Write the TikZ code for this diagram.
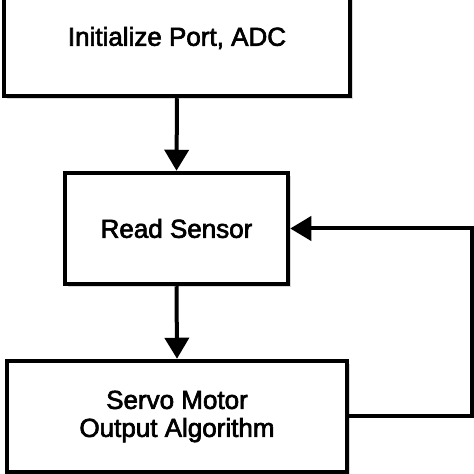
\documentclass[tikz,border=0pt]{standalone}
\usepackage{fontspec}
\setmainfont{Liberation Sans}
\newfontfamily\boxfont{Liberation Sans}[FakeBold=2.5]
\usetikzlibrary{arrows.meta,shadows}
\begin{document}
\begin{tikzpicture}[x=1pt,y=1pt,
  box/.style={draw=black, line width=4.5pt, fill=white, align=center,
    font=\boxfont\fontsize{26}{28}\selectfont, inner sep=0pt,
    drop shadow={shadow xshift=3pt, shadow yshift=-3pt, opacity=0.15, fill=black}},
  conn/.style={line width=4pt, -{Triangle[length=21pt,width=24pt]}}]
\useasboundingbox (0,0) rectangle (474,474);
\clip (0,0) rectangle (474,474);
\fill[white] (0,0) rectangle (474,474);
\node[box, minimum width=346pt, minimum height=116pt] (init) at (177,436) {Initialize Port, ADC};
\node[box, minimum width=223pt, minimum height=111pt] (read) at (176.5,245.5) {Read Sensor};
\node[box, minimum width=340pt, minimum height=111pt] (servo) at (177,57.5) {Servo Motor\\Output Algorithm};
\coordinate (c1) at (472,57.5);
\coordinate (c2) at (472,245.5);
\draw[conn] (init.south) -- (read.north);
\draw[conn] (read.south) -- (servo.north);
\draw[conn] (servo.east) -- (c1) -- (c2) -- (read.east);
\end{tikzpicture}
\end{document}
